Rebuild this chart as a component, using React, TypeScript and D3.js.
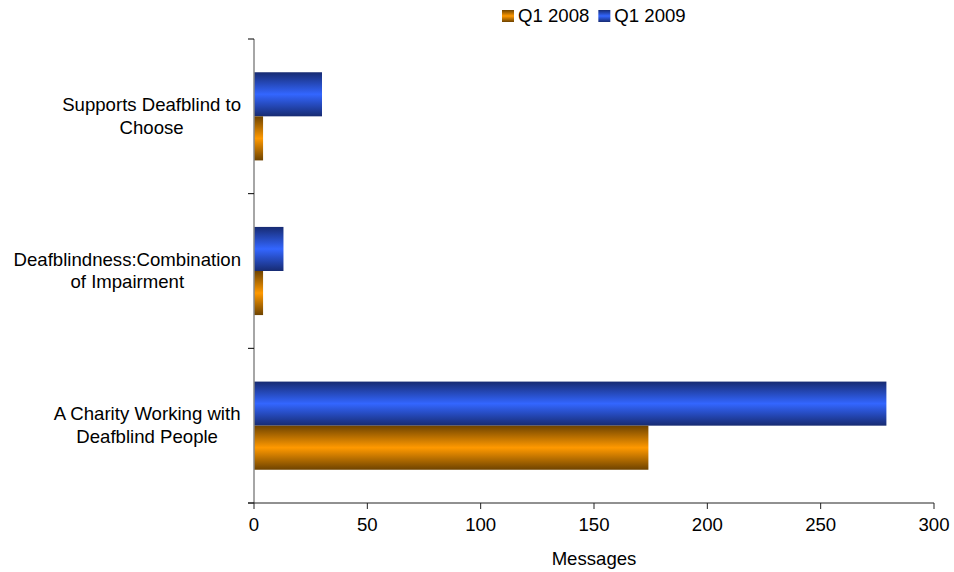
import React from "react";
import * as d3 from "d3";

// Categories listed top to bottom as they appear on the chart
const categories = [
  ["Supports Deafblind to", "Choose"],
  ["Deafblindness:Combination", "of Impairment"],
  ["A Charity Working with", "Deafblind People"],
];
const series = ["Q1 2009", "Q1 2008"]; // order within each group, top to bottom
const legendOrder = ["Q1 2008", "Q1 2009"];
const q1_2008 = [4, 4, 174];
const q1_2009 = [30, 13, 279];
const xTicks = [0, 50, 100, 150, 200, 250, 300];

const WIDTH = 954;
const HEIGHT = 572;
const FONT = "Liberation Sans, Arial, sans-serif";
const FS = 18.6;

const margin = { left: 254, right: 20, top: 39, bottom: 69 };

const colors: Record<string, { edge: string; mid: string }> = {
  "Q1 2008": { edge: "#6e4300", mid: "#ff9900" },
  "Q1 2009": { edge: "#172b72", mid: "#3366ff" },
};

let measureCtx: CanvasRenderingContext2D | null = null;
function textWidth(s: string): number {
  if (!measureCtx) {
    const c = document.createElement("canvas");
    measureCtx = c.getContext("2d");
  }
  if (!measureCtx) return s.length * FS * 0.5;
  measureCtx.font = `${FS}px ${FONT}`;
  return measureCtx.measureText(s).width;
}

export default function App() {
  const x0 = margin.left;
  const x1 = 934;
  const y0 = margin.top;
  const y1 = 503;

  const x = d3.scaleLinear().domain([0, 300]).range([x0, x1]);
  const y = d3
    .scaleBand<number>()
    .domain(d3.range(categories.length))
    .range([y0, y1])
    .paddingInner(0.43)
    .paddingOuter(0.215);
  const inner = d3.scaleBand<string>().domain(series).range([0, y.bandwidth()]);

  const values: Record<string, number[]> = { "Q1 2008": q1_2008, "Q1 2009": q1_2009 };
  const step = (y1 - y0) / categories.length;
  const boundaries = d3.range(categories.length + 1).map((i) => y0 + i * step);

  const gradId = (s: string) => "grad-" + s.replace(/\s+/g, "-");

  return (
    <svg width={WIDTH} height={HEIGHT} style={{ display: "block", position: "absolute", left: 0, top: 0 }}>
      <defs>
        {legendOrder.map((s) => (
          <linearGradient key={s} id={gradId(s)} x1="0" y1="0" x2="0" y2="1">
            <stop offset="0" stopColor={colors[s].edge} />
            <stop offset="0.5" stopColor={colors[s].mid} />
            <stop offset="1" stopColor={colors[s].edge} />
          </linearGradient>
        ))}
      </defs>
      <rect width={WIDTH} height={HEIGHT} fill="#fff" />

      {/* bars */}
      {categories.map((_, i) =>
        series.map((s) => (
          <rect
            key={s + i}
            x={x(0)}
            y={(y(i) as number) + (inner(s) as number)}
            width={x(values[s][i]) - x(0)}
            height={inner.bandwidth()}
            fill={`url(#${gradId(s)})`}
          />
        ))
      )}

      {/* y axis */}
      <line x1={x0} x2={x0} y1={y0} y2={y1} stroke="#888" strokeWidth={1.5} />
      {boundaries.map((b, i) => (
        <line key={i} x1={x0 - 6} x2={x0} y1={b} y2={b} stroke="#000" strokeWidth={1} />
      ))}
      {categories.map((lines, i) => {
        const w = Math.max(...lines.map(textWidth));
        const cx = 241 - w / 2;
        const cy = (y(i) as number) + y.bandwidth() / 2;
        return (
          <text key={i} fontFamily={FONT} fontSize={FS} textAnchor="middle" fill="#000">
            {lines.map((l, j) => (
              <tspan key={j} x={cx} y={cy + (j - (lines.length - 1) / 2) * 22.5 + 6}>
                {l}
              </tspan>
            ))}
          </text>
        );
      })}

      {/* x axis */}
      <line x1={x0 - 6} x2={x1} y1={y1} y2={y1} stroke="#222" strokeWidth={1} />
      {xTicks.map((t) => (
        <g key={t}>
          <line x1={x(t)} x2={x(t)} y1={y1} y2={y1 + 6} stroke="#222" />
          <text x={x(t)} y={y1 + 28} fontFamily={FONT} fontSize={FS} textAnchor="middle" fill="#000">
            {t}
          </text>
        </g>
      ))}
      <text x={(x0 + x1) / 2} y={565} fontFamily={FONT} fontSize={FS} textAnchor="middle" fill="#000">
        Messages
      </text>

      {/* legend */}
      {(() => {
        let lx = 502;
        return legendOrder.map((s) => {
          const g = (
            <g key={s}>
              <rect x={lx} y={10} width={12} height={12} fill={`url(#${gradId(s)})`} />
              <text x={lx + 16} y={22} fontFamily={FONT} fontSize={FS} fill="#000">
                {s}
              </text>
            </g>
          );
          lx += 16 + textWidth(s) + 9;
          return g;
        });
      })()}
    </svg>
  );
}
